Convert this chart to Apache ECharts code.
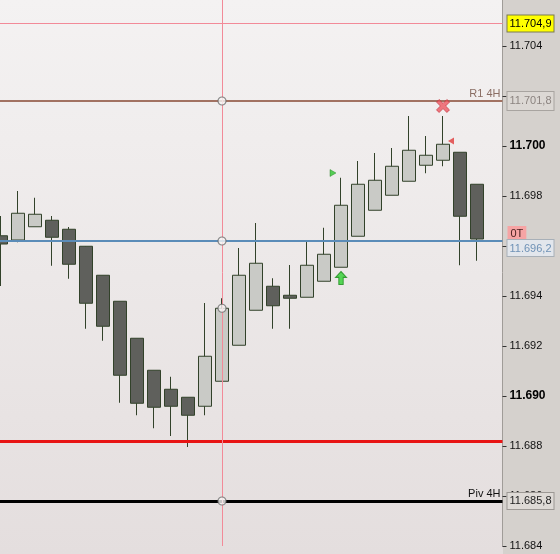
<!DOCTYPE html>
<html>
<head>
<meta charset="utf-8">
<script src="https://cdn.jsdelivr.net/npm/echarts@6/dist/echarts.min.js"></script>
<style>html,body{margin:0;padding:0;background:#fff;}#c{width:560px;height:554px;}</style>
</head>
<body>
<div id="c"></div>
<script>
// ---- data ----
const categories = ['1','2','3','4','5','6','7','8','9','10','11','12','13','14','15','16','17','18','19','20','21','22','23','24','25','26','27','28','29','30'];
const opens  = [11.69641, 11.69624, 11.69677, 11.69703, 11.69667, 11.69599, 11.69483, 11.69379, 11.69231, 11.69103, 11.69027, 11.68995, 11.68959, 11.69059, 11.69203, 11.69343, 11.69439, 11.69403, 11.69395, 11.69459, 11.69515, 11.69639, 11.69743, 11.69803, 11.69859, 11.69923, 11.69943, 11.69975, 11.69847];
const closes = [11.69608, 11.69731, 11.69727, 11.69635, 11.69527, 11.69371, 11.69279, 11.69083, 11.68971, 11.68955, 11.68959, 11.68923, 11.69159, 11.69351, 11.69483, 11.69531, 11.69361, 11.69391, 11.69523, 11.69567, 11.69763, 11.69847, 11.69863, 11.69919, 11.69983, 11.69963, 11.70007, 11.69719, 11.69628];
const highs  = [11.69720, 11.69820, 11.69793, 11.69720, 11.69676, 11.69600, 11.69483, 11.69379, 11.69231, 11.69103, 11.69077, 11.68995, 11.69372, 11.69391, 11.69592, 11.69692, 11.69471, 11.69524, 11.69621, 11.69673, 11.69873, 11.69940, 11.69972, 11.69992, 11.70120, 11.70040, 11.70120, 11.69975, 11.69847];
const lows   = [11.69440, 11.69615, 11.69677, 11.69521, 11.69469, 11.69269, 11.69221, 11.68973, 11.68923, 11.68871, 11.68840, 11.68796, 11.68923, 11.69059, 11.69203, 11.69343, 11.69269, 11.69269, 11.69395, 11.69459, 11.69515, 11.69639, 11.69743, 11.69803, 11.69859, 11.69891, 11.69919, 11.69523, 11.69541];

const yTicks = { min: 11.684, max: 11.706, step: 0.002 };
const boldTicks = [11.690, 11.700];

const levelTop = 11.7049;   // pink line, yellow box
const levelR1 = 11.7018;    // R1 4H
const levelOT = 11.6962;    // blue line, 0T
const levelRed = 11.6882;   // red line
const levelPiv = 11.6858;   // Piv 4H
const cursorIndex = 13;     // vertical cursor candle

// markers: [candle index, price]
const greenTri = [20, 11.69892];
const greenArrow = [20, 11.69472];
const redCross = [26, 11.70160];
const redTri = [26, 11.70020];

// ---- chart ----
const fmtPrice = v => { const s = v.toFixed(4); return s.slice(0, 6) + ',' + s.slice(6); };
const FONT = 'Liberation Sans, Arial, sans-serif';
const candleData = opens.map((o, i) => [o, closes[i], lows[i], highs[i]]);
const HIDDEN_LINE = { color: 'rgba(0,0,0,0)', width: 1, type: 'solid' };

const priceBox = (bg, border, color, pad) => ({
  show: true, position: 'end', distance: 5,
  formatter: p => fmtPrice(p.value),
  backgroundColor: bg, borderColor: border, borderWidth: 1, opacity: 1,
  color: color, fontFamily: FONT, fontSize: 11, padding: pad || [3, 2, 2, 2]
});

const chart = echarts.init(document.getElementById('c'), null, { renderer: 'canvas' });
chart.setOption({
  animation: false,
  graphic: [
    { type: 'rect', z: -10, silent: true, shape: { x: 0, y: 0, width: 503, height: 554 },
      style: { fill: new echarts.graphic.LinearGradient(0, 0, 0, 1, [
        { offset: 0, color: '#f4f2f2' }, { offset: 1, color: '#e4dede' }]) } },
    { type: 'rect', z: -10, silent: true, shape: { x: 503, y: 0, width: 57, height: 554 },
      style: { fill: '#d5d1cd' } }
  ],
  grid: { left: -7.5, right: 57.5, top: -4, bottom: 8, containLabel: false, outerBoundsMode: 'none' },
  xAxis: {
    type: 'category', data: categories, boundaryGap: true,
    axisLine: { show: false }, axisTick: { show: false }, axisLabel: { show: false }, splitLine: { show: false }
  },
  yAxis: {
    type: 'value', position: 'right', min: yTicks.min, max: yTicks.max, interval: yTicks.step, scale: true,
    axisLine: { show: true, lineStyle: { color: '#a09c98', width: 1 } },
    axisTick: { show: true, length: 4, inside: false, lineStyle: { color: '#333' } },
    splitLine: { show: false },
    axisLabel: {
      show: true, margin: 7, color: '#111', fontFamily: FONT, fontSize: 11,
      showMinLabel: true, showMaxLabel: true,
      formatter: v => {
        const s = v.toFixed(3);
        return boldTicks.some(b => Math.abs(b - v) < 1e-7) ? '{b|' + s + '}' : s;
      },
      rich: { b: { fontWeight: 'bold', fontSize: 12, color: '#000', fontFamily: FONT } }
    }
  },
  series: [
    {
      type: 'candlestick', data: candleData, barWidth: 14,
      itemStyle: { color: '#c9cac6', color0: '#5f605c', borderColor: '#32422a', borderColor0: '#32422a', borderWidth: 1 },
      markLine: {
        silent: true, symbol: ['none', 'none'], animation: false, precision: 5,
        data: [
          { yAxis: levelTop, lineStyle: { color: '#f28a98', width: 1, type: 'solid' },
            label: priceBox('#ffff00', '#7a7a50', '#000') },
          { yAxis: levelR1, lineStyle: { color: '#a27262', width: 2, type: 'solid' },
            label: { show: true, position: 'insideEndTop', distance: 2, formatter: 'R1 4H', color: '#8a6e64', fontFamily: FONT, fontSize: 11 } },
          { yAxis: levelR1, lineStyle: HIDDEN_LINE, label: priceBox('#dcd8d4', '#a8a4a0', '#8c8480', [5, 2, 2, 2]) },
          { yAxis: levelRed, lineStyle: { color: '#e81414', width: 3, type: 'solid' }, label: { show: false } },
          { yAxis: levelPiv, lineStyle: { color: '#000', width: 3, type: 'solid' },
            label: { show: true, position: 'insideEndTop', distance: 2, formatter: 'Piv 4H', color: '#111', fontFamily: FONT, fontSize: 11 } },
          { yAxis: levelPiv, lineStyle: HIDDEN_LINE, label: priceBox('#dedad6', '#9c9894', '#222') },
          { xAxis: categories[cursorIndex], lineStyle: { color: '#f28a98', width: 1, type: 'solid' }, label: { show: false } },
          { yAxis: levelOT, lineStyle: { color: '#5b8cb8', width: 2, type: 'solid' },
            label: {
              show: true, position: 'end', distance: 5,
              formatter: p => '{t|0T}\n{v|' + fmtPrice(p.value) + '}',
              rich: {
                t: { backgroundColor: '#f6a4a4', color: '#4a2020', fontFamily: FONT, fontSize: 11, padding: [2, 3, 1, 3], align: 'left' },
                v: { backgroundColor: '#e2e6ec', borderColor: '#a8b0b8', borderWidth: 1, color: '#6f92b6', fontFamily: FONT, fontSize: 11, padding: [3, 2, 2, 2], align: 'left' }
              }
            } }
        ]
      }
    },
    {
      type: 'scatter', symbol: 'circle', symbolSize: 8, z: 5,
      itemStyle: { color: '#f8f6f6', borderColor: '#6a6a6a', borderWidth: 1.2 },
      data: [
        [categories[cursorIndex], levelR1],
        [categories[cursorIndex], levelOT],
        [categories[cursorIndex], levelPiv],
        [categories[cursorIndex], closes[cursorIndex]]
      ]
    },
    {
      type: 'scatter', z: 6,
      data: [
        { value: [categories[greenTri[0]], greenTri[1]], symbol: 'triangle', symbolSize: [7, 6], symbolRotate: -90, symbolOffset: [-8, 0],
          itemStyle: { color: '#2ec42e', borderColor: '#1a7a1a', borderWidth: 0.5 } },
        { value: [categories[greenArrow[0]], greenArrow[1]], symbol: 'path://M5,0 L10,5 L7,5 L7,11 L3,11 L3,5 L0,5 Z', symbolSize: [11, 13],
          itemStyle: { color: '#30d030', borderColor: '#1a8a1a', borderWidth: 1 } },
        { value: [categories[redCross[0]], redCross[1]], symbol: 'path://M2,0 L5,3 L8,0 L10,2 L7,5 L10,8 L8,10 L5,7 L2,10 L0,8 L3,5 L0,2 Z', symbolSize: 13,
          itemStyle: { color: '#ee5862', borderColor: '#c02a34', borderWidth: 0.8 } },
        { value: [categories[redTri[0]], redTri[1]], symbol: 'triangle', symbolSize: [7, 6], symbolRotate: 90, symbolOffset: [8, 0],
          itemStyle: { color: '#e03a3a' } }
      ]
    }
  ]
});
</script>
</body>
</html>
